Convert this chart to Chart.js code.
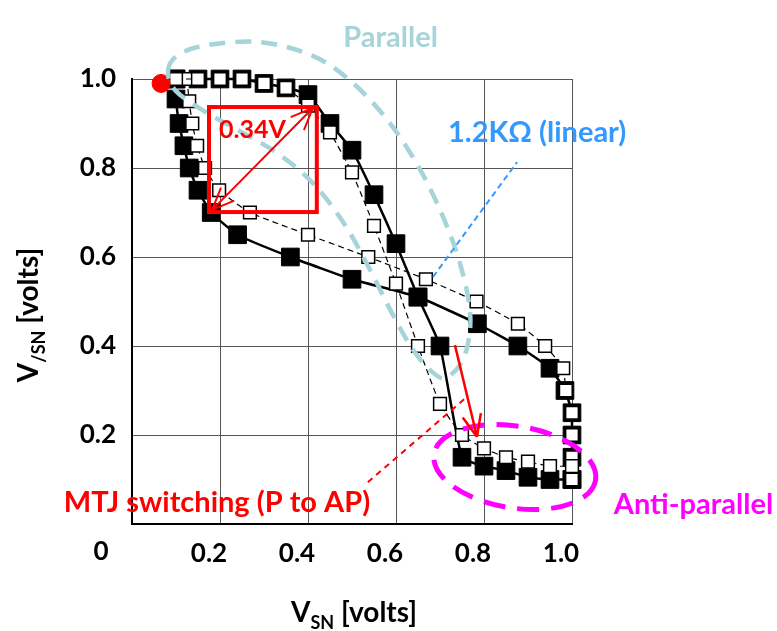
<!DOCTYPE html>
<html>
<head>
<meta charset="utf-8">
<script src="https://cdn.jsdelivr.net/npm/chart.js@4.4.1/dist/chart.umd.min.js"></script>
<style>
  html, body { margin: 0; padding: 0; background: #fff; }
  #chart { display: block; }
</style>
</head>
<body>
<canvas id="chart" width="777" height="631"></canvas>
<script>
// butterfly curves, x = V_SN, y = V_/SN (volts)
const steepX = [0.10, 0.15, 0.20, 0.25, 0.30, 0.35, 0.40, 0.45, 0.50, 0.55, 0.60, 0.65, 0.70, 0.75, 0.80, 0.85, 0.90, 0.95, 1.00];
const steepFilledY = [1.00, 1.00, 1.00, 1.00, 0.99, 0.98, 0.965, 0.90, 0.84, 0.74, 0.63, 0.51, 0.40, 0.15, 0.13, 0.12, 0.105, 0.10, 0.10];
const steepOpenY = [1.00, 1.00, 1.00, 1.00, 0.99, 0.98, 0.94, 0.88, 0.79, 0.67, 0.54, 0.40, 0.27, 0.20, 0.17, 0.15, 0.14, 0.13, 0.13];

const shallowFilledX = [0.10, 0.10, 0.107, 0.118, 0.13, 0.15, 0.18, 0.24, 0.36, 0.50, 0.65, 0.785, 0.877, 0.95, 0.984, 1.00, 1.00, 1.00, 1.00];
const shallowFilledY = [1.00, 0.955, 0.90, 0.85, 0.80, 0.75, 0.70, 0.65, 0.60, 0.55, 0.51, 0.45, 0.40, 0.35, 0.30, 0.25, 0.20, 0.15, 0.10];
const shallowOpenX = [0.125, 0.13, 0.137, 0.148, 0.166, 0.198, 0.268, 0.40, 0.537, 0.668, 0.783, 0.877, 0.939, 0.98, 0.986, 1.00, 1.00, 1.00, 1.00];
const shallowOpenY = [1.00, 0.95, 0.90, 0.85, 0.80, 0.75, 0.70, 0.65, 0.60, 0.55, 0.50, 0.45, 0.40, 0.35, 0.30, 0.25, 0.20, 0.15, 0.10];

const startPoint = { x: 0.066, y: 0.99 };
const axisTicks = [0, 0.2, 0.4, 0.6, 0.8, 1.0];

const pts = (xs, ys) => xs.map((v, i) => ({ x: v, y: ys[i] }));

const FONT = 'Lato, "Open Sans", sans-serif';
const TEAL = 'rgb(166,212,216)';

function filledSet(data) {
    return {
        data, showLine: true, clip: false, order: 2,
        borderColor: '#000', borderWidth: 2.5, tension: 0.15,
        pointStyle: 'rect', pointRadius: 12.5, pointBackgroundColor: '#000',
        pointBorderColor: '#000', pointBorderWidth: 1
    };
}
function openSet(data) {
    return {
        data, showLine: true, clip: false, order: 1,
        borderColor: '#000', borderWidth: 1.2, borderDash: [6, 4], tension: 0.15,
        pointStyle: 'rect', pointRadius: 9, pointBackgroundColor: '#fff',
        pointBorderColor: '#000', pointBorderWidth: 1.5
    };
}

// closed smooth curve through a list of pixel points
function closedSpline(ctx, p) {
    const n = p.length;
    ctx.moveTo(p[0][0], p[0][1]);
    for (let i = 0; i < n; i++) {
        const p0 = p[(i - 1 + n) % n], p1 = p[i], p2 = p[(i + 1) % n], p3 = p[(i + 2) % n];
        ctx.bezierCurveTo(p1[0] + (p2[0] - p0[0]) / 6, p1[1] + (p2[1] - p0[1]) / 6,
            p2[0] - (p3[0] - p1[0]) / 6, p2[1] - (p3[1] - p1[1]) / 6, p2[0], p2[1]);
    }
}

function arrowHead(ctx, x1, y1, x2, y2, len) {
    const a = Math.atan2(y2 - y1, x2 - x1);
    ctx.moveTo(x2, y2);
    ctx.lineTo(x2 - len * Math.cos(a - 0.4), y2 - len * Math.sin(a - 0.4));
    ctx.moveTo(x2, y2);
    ctx.lineTo(x2 - len * Math.cos(a + 0.4), y2 - len * Math.sin(a + 0.4));
}

// outline of the "Parallel" region, in axis units
const parallelX = [0.082, 0.105, 0.170, 0.291, 0.411, 0.502, 0.586, 0.655, 0.707, 0.745, 0.768, 0.764, 0.745, 0.711, 0.682, 0.639, 0.593, 0.541, 0.484, 0.411, 0.320, 0.170, 0.098];
const parallelY = [1.020, 1.054, 1.076, 1.083, 1.052, 0.991, 0.901, 0.796, 0.690, 0.587, 0.481, 0.407, 0.357, 0.328, 0.342, 0.391, 0.470, 0.571, 0.672, 0.766, 0.840, 0.924, 0.975];

const annotations = {
    id: 'annotations',
    afterDatasetsDraw(chart) {
        const { ctx, scales: { x, y } } = chart;
        const px = v => x.getPixelForValue(v);
        const py = v => y.getPixelForValue(v);
        ctx.save();

        // Parallel region
        ctx.beginPath();
        closedSpline(ctx, parallelX.map((v, i) => [px(v), py(parallelY[i])]));
        ctx.strokeStyle = TEAL; ctx.lineWidth = 4.5; ctx.setLineDash([16, 10]);
        ctx.stroke();

        // Anti-parallel region
        ctx.beginPath();
        ctx.ellipse(px(0.87), py(0.128), px(1.056) - px(0.87), py(0.128) - py(0.22), 0.16, 0, Math.PI * 2);
        ctx.strokeStyle = '#ff00ff'; ctx.lineWidth = 5; ctx.setLineDash([22, 12]);
        ctx.stroke();

        // 1.2 kOhm pointer
        ctx.beginPath();
        ctx.moveTo(px(0.684), py(0.555)); ctx.lineTo(px(0.875), py(0.813));
        ctx.strokeStyle = '#3399ff'; ctx.lineWidth = 2; ctx.setLineDash([6, 4]);
        ctx.stroke();

        // MTJ switching pointer
        ctx.beginPath();
        ctx.moveTo(px(0.536), py(0.094)); ctx.lineTo(px(0.764), py(0.288));
        ctx.strokeStyle = '#ff0000'; ctx.lineWidth = 2; ctx.setLineDash([6, 5]);
        ctx.stroke();
        ctx.setLineDash([]);

        // noise margin box + diagonal
        ctx.strokeStyle = '#ff0000';
        ctx.lineWidth = 4;
        ctx.strokeRect(px(0.175), py(0.937), px(0.42) - px(0.175), py(0.701) - py(0.937));
        ctx.lineWidth = 2;
        ctx.beginPath();
        const ax1 = px(0.182), ay1 = py(0.706), ax2 = px(0.411), ay2 = py(0.935);
        ctx.moveTo(ax1, ay1); ctx.lineTo(ax2, ay2);
        arrowHead(ctx, ax1, ay1, ax2, ay2, 24);
        arrowHead(ctx, ax2, ay2, ax1, ay1, 24);
        ctx.stroke();

        // switching arrow
        ctx.lineWidth = 2.5;
        ctx.beginPath();
        const bx1 = px(0.734), by1 = py(0.402), bx2 = px(0.784), by2 = py(0.196);
        ctx.moveTo(bx1, by1); ctx.lineTo(bx2, by2);
        arrowHead(ctx, bx1, by1, bx2, by2, 24);
        ctx.stroke();

        // labels
        ctx.textBaseline = 'middle';
        ctx.textAlign = 'left';
        const label = (t, vx, vy, color, size) => {
            ctx.font = 'bold ' + size + 'px ' + FONT;
            ctx.fillStyle = color;
            ctx.fillText(t, px(vx), py(vy));
        };
        label('0.34V', 0.198, 0.885, '#ff0000', 25);
        label('1.2K\u03A9 (linear)', 0.718, 0.879, '#3399ff', 29);
        label('Parallel', 0.48, 1.094, TEAL, 29);
        label('MTJ switching (P to AP)', -0.155, 0.047, '#ff0000', 29);
        label('Anti-parallel', 1.095, 0.043, '#ff00ff', 29);
        ctx.restore();
    },
    afterDraw(chart) {
        const { ctx, chartArea: a } = chart;
        ctx.save();
        ctx.fillStyle = '#000';
        ctx.textBaseline = 'alphabetic';
        const main = 'bold 28px ' + FONT, sub = 'bold 18px ' + FONT;

        // origin label shared by both axes
        ctx.font = 'bold 26px ' + FONT;
        ctx.textAlign = 'center';
        ctx.fillText('0', a.left - 31, a.bottom + 36);

        // titles with subscripts
        const title = (cx, cy, s1, s2, s3) => {
            ctx.font = main; const w1 = ctx.measureText(s1).width, w3 = ctx.measureText(s3).width;
            ctx.font = sub; const w2 = ctx.measureText(s2).width;
            let x0 = cx - (w1 + w2 + w3) / 2;
            ctx.textAlign = 'left';
            ctx.font = main; ctx.fillText(s1, x0, cy);
            ctx.font = sub; ctx.fillText(s2, x0 + w1, cy + 7);
            ctx.font = main; ctx.fillText(s3, x0 + w1 + w2, cy);
        };
        title((a.left + a.right) / 2 + 2, 622, 'V', 'SN', ' [volts]');
        ctx.translate(38, 315);
        ctx.rotate(-Math.PI / 2);
        title(0, 0, 'V', '/SN', ' [volts]');
        ctx.restore();
    }
};

new Chart(document.getElementById('chart'), {
    type: 'scatter',
    data: {
        datasets: [
            { data: [startPoint], clip: false, order: 0, pointRadius: 9, pointBackgroundColor: '#ff0000', pointBorderColor: '#ff0000', showLine: false },
            openSet(pts(steepX, steepOpenY)),
            openSet(pts(shallowOpenX, shallowOpenY)),
            filledSet(pts(steepX, steepFilledY)),
            filledSet(pts(shallowFilledX, shallowFilledY))
        ]
    },
    options: {
        responsive: false,
        devicePixelRatio: 1,
        animation: false,
        layout: { padding: { left: 0, top: 79, right: 205, bottom: 0 } },
        plugins: { legend: { display: false }, tooltip: { enabled: false } },
        scales: {
            x: {
                type: 'linear', min: 0, max: 1.0,
                afterBuildTicks: s => { s.ticks = axisTicks.map(v => ({ value: v })); },
                afterFit: s => { s.height = 107; },
                grid: { color: '#555', lineWidth: 1, drawTicks: false },
                border: { color: '#000', width: 2 },
                ticks: {
                    padding: 14, labelOffset: -11, color: '#000', maxRotation: 0,
                    font: { family: FONT, size: 26, weight: 'bold' },
                    callback: v => v === 0 ? '' : v.toFixed(1)
                }
            },
            y: {
                type: 'linear', min: 0, max: 1.0,
                afterBuildTicks: s => { s.ticks = axisTicks.map(v => ({ value: v })); },
                afterFit: s => { s.width = 132; },
                grid: { color: '#555', lineWidth: 1, drawTicks: false },
                border: { color: '#000', width: 2 },
                ticks: {
                    padding: 16, color: '#000',
                    font: { family: FONT, size: 26, weight: 'bold' },
                    callback: v => v === 0 ? '' : v.toFixed(1)
                }
            }
        }
    },
    plugins: [annotations]
});
</script>
</body>
</html>
